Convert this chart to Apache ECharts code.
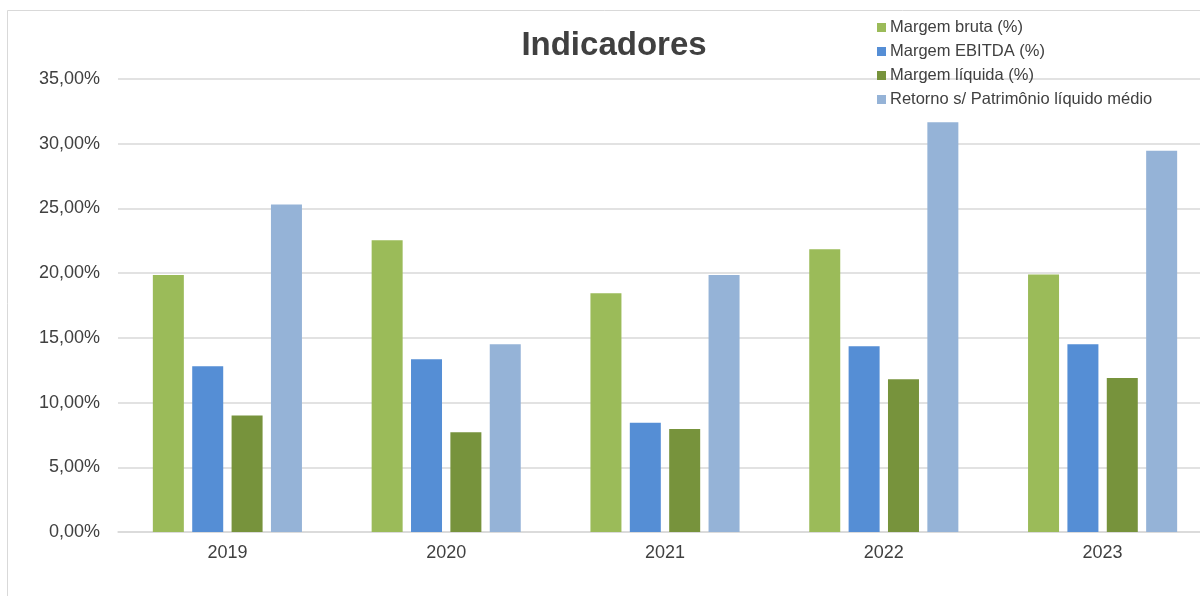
<!DOCTYPE html>
<html>
<head>
<meta charset="utf-8">
<script src="https://cdn.jsdelivr.net/npm/echarts@6/dist/echarts.min.js"></script>
<style>
  html, body { margin: 0; padding: 0; background: #fff; }
  #chart { width: 1200px; height: 596px; }
</style>
</head>
<body>
<div id="chart"></div>
<script>
// dados (valores em %)
const anos = ['2019', '2020', '2021', '2022', '2023']
const margemBruta = [19.85, 22.55, 18.45, 21.85, 19.9]
const margemEbitda = [12.8, 13.35, 8.45, 14.35, 14.5]
const margemLiquida = [9.0, 7.7, 7.95, 11.8, 11.9]
const retornoPL = [25.3, 14.5, 19.85, 31.65, 29.45]
const nomesSeries = [
  'Margem bruta (%)',
  'Margem EBITDA (%)',
  'Margem líquida (%)',
  'Retorno s/ Patrimônio líquido médio',
]
const cores = ['#9BBB59', '#558ED5', '#77933C', '#95B3D7']

const fonte = 'Arial, "Liberation Sans", sans-serif'
const chart = echarts.init(document.getElementById('chart'))

// monta uma série de barras
function serie(nome, dados, cor) {
  return {
    name: nome,
    type: 'bar',
    data: dados,
    barWidth: 31,
    barGap: '27%',
    itemStyle: { color: cor },
    emphasis: { disabled: true },
  }
}

const option = {
  backgroundColor: '#fff',
  animation: false,
  color: cores,
  title: {
    text: 'Indicadores',
    left: 609,
    textAlign: 'center',
    top: 24,
    textStyle: { fontFamily: fonte, fontSize: 33, fontWeight: 'bold', color: '#404040' },
  },
  // moldura do gráfico
  graphic: [
    {
      type: 'rect',
      silent: true,
      z: -10,
      shape: { x: 7.5, y: 10.5, width: 1300, height: 700 },
      style: { fill: 'none', stroke: '#d9d9d9', lineWidth: 1 },
    },
  ],
  legend: {
    orient: 'vertical',
    left: 872,
    top: 14,
    itemWidth: 9,
    itemHeight: 9,
    itemGap: 7,
    icon: 'rect',
    data: nomesSeries,
    textStyle: { fontFamily: fonte, fontSize: 16.5, color: '#404040', padding: [0, 0, 0, -1] },
  },
  // o gráfico original é cortado à direita
  grid: {
    left: 118,
    width: 1094,
    top: 79,
    bottom: 64,
    outerBoundsMode: 'none',
  },
  xAxis: {
    type: 'category',
    data: anos,
    axisTick: { show: false },
    axisLine: { lineStyle: { color: '#d9d9d9', width: 1.5 } },
    axisLabel: { fontFamily: fonte, fontSize: 18, color: '#404040', margin: 12 },
  },
  yAxis: {
    type: 'value',
    min: 0,
    max: 35,
    interval: 5,
    axisLine: { show: false },
    axisTick: { show: false },
    splitLine: { lineStyle: { color: '#d9d9d9', width: 1.5 } },
    axisLabel: {
      fontFamily: fonte,
      fontSize: 18,
      color: '#404040',
      margin: 18,
      formatter: (v) => v.toFixed(2).replace('.', ',') + '%',
    },
  },
  series: [
    serie(nomesSeries[0], margemBruta, cores[0]),
    serie(nomesSeries[1], margemEbitda, cores[1]),
    serie(nomesSeries[2], margemLiquida, cores[2]),
    serie(nomesSeries[3], retornoPL, cores[3]),
  ],
}
chart.setOption(option)
</script>
</body>
</html>
